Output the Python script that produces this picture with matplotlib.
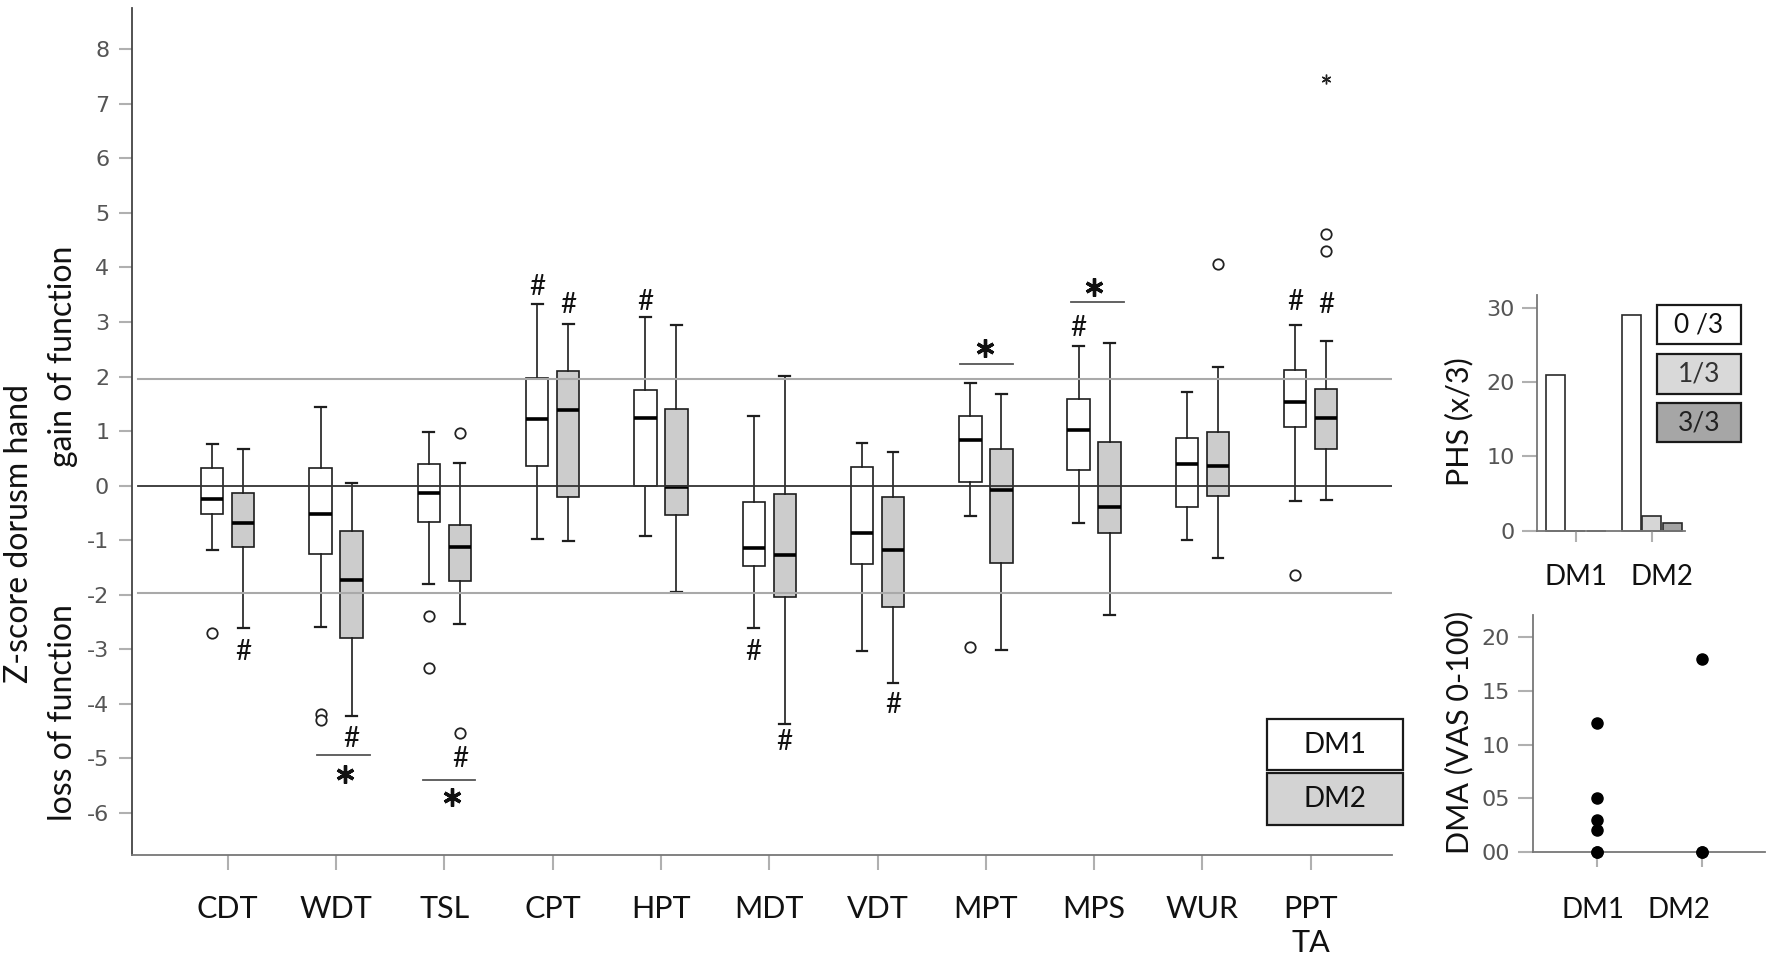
import matplotlib
matplotlib.use('Agg')
import matplotlib.pyplot as plt
from matplotlib.patches import Rectangle
from matplotlib import transforms

W, H, DPI = 1772, 959, 100
plt.rcParams['font.family'] = ['Lato', 'DejaVu Sans']
NARROW = ['Liberation Sans Narrow', 'DejaVu Sans']

# ---------------- data ----------------
categories = ['CDT', 'WDT', 'TSL', 'CPT', 'HPT', 'MDT', 'VDT', 'MPT', 'MPS', 'WUR', 'PPT\nTA']

# DM1 (white boxes)
dm1_whislo = [-1.18, -2.59, -1.80, -0.97, -0.92, -2.60, -3.03, -0.55, -0.68, -1.00, -0.28]
dm1_q1     = [-0.51, -1.25, -0.66,  0.37,  0.00, -1.47, -1.44,  0.07,  0.28, -0.385, 1.08]
dm1_med    = [-0.25, -0.51, -0.14,  1.23,  1.24, -1.14, -0.87,  0.84,  1.02,  0.39,  1.53]
dm1_q3     = [ 0.33,  0.32,  0.40,  1.97,  1.76, -0.29,  0.34,  1.27,  1.59,  0.88,  2.12]
dm1_whishi = [ 0.76,  1.44,  0.99,  3.33,  3.10,  1.27,  0.78,  1.89,  2.56,  1.72,  2.95]
dm1_fliers = [[-2.70], [-4.18, -4.29], [-2.39, -3.35], [], [], [], [], [-2.95], [], [], [-1.64]]

# DM2 (grey boxes)
dm2_whislo = [-2.61, -4.22, -2.53, -1.01, -1.94, -4.36, -3.61, -3.01, -2.37, -1.32, -0.26]
dm2_q1     = [-1.13, -2.79, -1.75, -0.21, -0.54, -2.04, -2.23, -1.41, -0.86, -0.18,  0.67]
dm2_med    = [-0.68, -1.73, -1.12,  1.39, -0.02, -1.27, -1.18, -0.08, -0.39,  0.37,  1.24]
dm2_q3     = [-0.14, -0.83, -0.72,  2.10,  1.40, -0.15, -0.21,  0.67,  0.81,  0.99,  1.78]
dm2_whishi = [ 0.68,  0.05,  0.41,  2.96,  2.95,  2.01,  0.61,  1.69,  2.61,  2.18,  2.66]
dm2_fliers = [[], [], [0.97, -4.54], [], [], [], [], [], [], [4.06], [4.31, 4.61]]
dm2_extreme_cat = [10]
dm2_extreme_val = [7.46]

# '#' marks: (category index, group 0=DM1 1=DM2, y)
hash_cat   = [0, 1, 2, 3, 3, 4, 5, 5, 6, 8, 10, 10]
hash_group = [1, 1, 1, 0, 1, 0, 0, 1, 1, 0, 0, 1]
hash_y     = [-3.02, -4.61, -4.97, 3.68, 3.34, 3.41, -3.02, -4.66, -3.99, 2.93, 3.40, 3.34]

# significance '*' between groups: category, line y, line start/end offset, star position
sig_cat    = [1, 2, 7, 8]
sig_line_y = [-4.94, -5.39, 2.23, 3.36]
sig_x0     = [-0.175, -0.20, -0.24, -0.21]
sig_x1     = [0.314, 0.28, 0.25, 0.28]
sig_star_x = [0.085, 0.07, -0.01, 0.0]
sig_star_y = [-5.28, -5.71, 2.52, 3.65]

# PHS bars
phs_groups = ['DM1', 'DM2']
phs_levels = ['0 /3', '1/3', '3/3']
phs_values = [[21, 29], [0, 2], [0, 1]]   # per level, per group
phs_label_shift = [0.01, 0.13]

# DMA points
dma_groups = ['DM1', 'DM2']
dma_dm1 = [12, 5, 3, 2, 0, 0]
dma_dm2 = [18, 0, 0]
dma_label_shift = [-0.04, -0.22]

# ---------------- helpers ----------------
def fx(px):
    return px / W

def fy(py):
    return 1 - py / H

fig = plt.figure(figsize=(W / DPI, H / DPI), dpi=DPI)

# ---------------- main axes ----------------
ax = fig.add_axes([fx(132), fy(855), fx(1392) - fx(132), fy(8) - fy(855)])
ax.set_xlim(-0.884, 10.75)
ax.set_ylim(-6.77, 8.757)

OFF, BW = 0.143, 0.207
white_fill, grey_fill, edge = 'white', '#cccccc', '#1e1e1e'


def make_stats(lo, q1, med, q3, hi, fl):
    return [dict(whislo=a, q1=b, med=c, q3=d, whishi=e, fliers=f)
            for a, b, c, d, e, f in zip(lo, q1, med, q3, hi, fl)]


common = dict(widths=BW, capwidths=0.1, patch_artist=True, manage_ticks=False,
              medianprops=dict(color='black', linewidth=2.6),
              whiskerprops=dict(color=edge, linewidth=1.2),
              capprops=dict(color=edge, linewidth=1.6),
              flierprops=dict(marker='o', markerfacecolor='white', markeredgecolor='#222222',
                              markersize=7.5, markeredgewidth=1.3, linestyle='none'))

n = len(categories)
ax.bxp(make_stats(dm1_whislo, dm1_q1, dm1_med, dm1_q3, dm1_whishi, dm1_fliers),
       positions=[i - OFF for i in range(n)],
       boxprops=dict(facecolor=white_fill, edgecolor=edge, linewidth=1.2), **common)
ax.bxp(make_stats(dm2_whislo, dm2_q1, dm2_med, dm2_q3, dm2_whishi, dm2_fliers),
       positions=[i + OFF for i in range(n)],
       boxprops=dict(facecolor=grey_fill, edgecolor=edge, linewidth=1.2), **common)
ax.plot([c + OFF for c in dm2_extreme_cat], dm2_extreme_val, linestyle='none',
        marker=(6, 2, 0), markersize=7, markeredgewidth=1.0, color='#222222')

xmin_frac = (138 - 132) / (1392 - 132)
ax.axhline(0, xmin=xmin_frac, color='#333333', lw=1.3, zorder=3)
for v in (1.96, -1.96):
    ax.axhline(v, xmin=xmin_frac, color='#a9a9a9', lw=1.5, zorder=3)

# hash marks
hash_tr = transforms.offset_copy(ax.transData, fig=fig, x=0, y=-10, units='dots')
for c, g, yv in zip(hash_cat, hash_group, hash_y):
    xv = c - OFF if g == 0 else c + OFF
    ax.text(xv, yv, '#', transform=hash_tr, ha='center', va='baseline',
            fontsize=20, color='#111111', zorder=5)

# significance
for c, ly, x0, x1, sx, sy in zip(sig_cat, sig_line_y, sig_x0, sig_x1, sig_star_x, sig_star_y):
    ax.plot([c + x0, c + x1], [ly, ly], color='#555555', lw=1.3, zorder=4)
    ax.plot([c + sx], [sy], linestyle='none', marker=(6, 2, 0), markersize=13,
            markeredgewidth=2.4, color='#111111', zorder=5)

ax.set_xticks(range(n))
ax.set_xticklabels(categories, fontsize=22, color='#111111', linespacing=1.25)
yt = list(range(-6, 9))
ax.set_yticks(yt)
ax.set_yticklabels([str(v) for v in yt], fontsize=16, color='#555555', family=NARROW)
ax.tick_params(axis='x', direction='out', length=10.8, width=1.5, color='#b0b0b0', pad=18)
ax.tick_params(axis='y', direction='out', length=9.4, width=1.5, color='#b0b0b0', pad=7)
for s in ('top', 'right'):
    ax.spines[s].set_visible(False)
ax.spines['left'].set_color('#444444')
ax.spines['left'].set_linewidth(1.3)
ax.spines['bottom'].set_color('#777777')
ax.spines['bottom'].set_linewidth(1.3)

# y-label texts
fig.text(fx(28.5), fy(533.5), 'Z-score dorusm hand', rotation=90, rotation_mode='anchor',
         ha='center', va='baseline', fontsize=23, color='#111111')
fig.text(fx(72), fy(356.7), 'gain of function', rotation=90, rotation_mode='anchor',
         ha='center', va='baseline', fontsize=23, color='#111111')
fig.text(fx(72), fy(713), 'loss of function', rotation=90, rotation_mode='anchor',
         ha='center', va='baseline', fontsize=23, color='#111111')

# legend boxes
def box(x0, y0, x1, y1, fc, label, fs, tc='#111111'):
    fig.add_artist(Rectangle((fx(x0), fy(y1)), fx(x1) - fx(x0), fy(y0) - fy(y1),
                             transform=fig.transFigure, facecolor=fc, edgecolor='#1a1a1a',
                             linewidth=1.6))
    fig.text(fx((x0 + x1) / 2), fy((y0 + y1) / 2), label, ha='center', va='center',
             fontsize=fs, color=tc)

box(1266.7, 719.3, 1402.7, 770, 'white', 'DM1', 20)
box(1266.7, 772.7, 1402.7, 825, '#d3d3d3', 'DM2', 20)

# ---------------- PHS axes ----------------
ax2 = fig.add_axes([fx(1536.7), fy(530.7), fx(1685) - fx(1536.7), fy(295) - fy(530.7)])
ax2.set_xlim(-0.513, 1.438)
ax2.set_ylim(0, 31.7)
bar_cols = ['white', '#d6d6d6', '#a3a3a3']
bar_off = [-0.27, 0.0, 0.27]
for lvl in range(len(phs_levels)):
    ax2.bar([g + bar_off[lvl] for g in range(len(phs_groups))], phs_values[lvl], width=0.25,
            color=bar_cols[lvl], edgecolor='#2a2a2a', linewidth=1.2, clip_on=False)
ax2.xaxis.remove_overlapping_locs = False
ax2.set_xticks(range(len(phs_groups)))
ax2.set_xticklabels([])
ax2.set_xticks([g + s for g, s in zip(range(len(phs_groups)), phs_label_shift)],
               labels=phs_groups, minor=True)
ax2.set_yticks([0, 10, 20, 30])
ax2.set_yticklabels(['0', '10', '20', '30'], fontsize=16, color='#555555', family=NARROW)
ax2.tick_params(axis='x', which='major', direction='out', length=8, width=1.5, color='#b0b0b0')
ax2.tick_params(axis='x', which='minor', length=0, pad=24, labelsize=20, labelcolor='#111111')
ax2.tick_params(axis='y', direction='out', length=10.8, width=1.5, color='#b0b0b0', pad=4.8)
for s in ('top', 'right'):
    ax2.spines[s].set_visible(False)
for s in ('left', 'bottom'):
    ax2.spines[s].set_color('#777777')
    ax2.spines[s].set_linewidth(1.3)
fig.text(fx(1468), fy(421.7), 'PHS (x/3)', rotation=90, rotation_mode='anchor',
         ha='center', va='baseline', fontsize=22, color='#111111')

box(1657, 305, 1741, 344, 'white', phs_levels[0], 19)
box(1657, 354, 1741, 394, '#d9d9d9', phs_levels[1], 19, '#333333')
box(1657, 403, 1741, 442, '#a6a6a6', phs_levels[2], 19, '#222222')

# ---------------- DMA axes ----------------
ax3 = fig.add_axes([fx(1533.3), fy(851.7), fx(1765) - fx(1533.3), fy(615) - fy(851.7)])
ax3.set_xlim(-0.613, 1.606)
ax3.set_ylim(0, 22.1)
ax3.plot([0] * len(dma_dm1), dma_dm1, 'o', color='black', markersize=8, clip_on=False, zorder=4)
ax3.plot([1] * len(dma_dm2), dma_dm2, 'o', color='black', markersize=8, clip_on=False, zorder=4)
ax3.xaxis.remove_overlapping_locs = False
ax3.set_xticks(range(len(dma_groups)))
ax3.set_xticklabels([])
ax3.set_xticks([g + s for g, s in zip(range(len(dma_groups)), dma_label_shift)],
               labels=dma_groups, minor=True)
ax3.set_yticks([0, 5, 10, 15, 20])
ax3.set_yticklabels(['00', '05', '10', '15', '20'], fontsize=16, color='#555555', family=NARROW)
ax3.tick_params(axis='x', which='major', direction='out', length=10.8, width=1.5, color='#b0b0b0')
ax3.tick_params(axis='x', which='minor', length=0, pad=32.8, labelsize=20, labelcolor='#111111')
ax3.tick_params(axis='y', direction='out', length=10.8, width=1.5, color='#b0b0b0', pad=5.8)
for s in ('top', 'right'):
    ax3.spines[s].set_visible(False)
for s in ('left', 'bottom'):
    ax3.spines[s].set_color('#777777')
    ax3.spines[s].set_linewidth(1.3)
fig.text(fx(1468), fy(732), 'DMA (VAS 0-100)', rotation=90, rotation_mode='anchor',
         ha='center', va='baseline', fontsize=22, color='#111111')

fig.savefig('out.png', dpi=DPI)
